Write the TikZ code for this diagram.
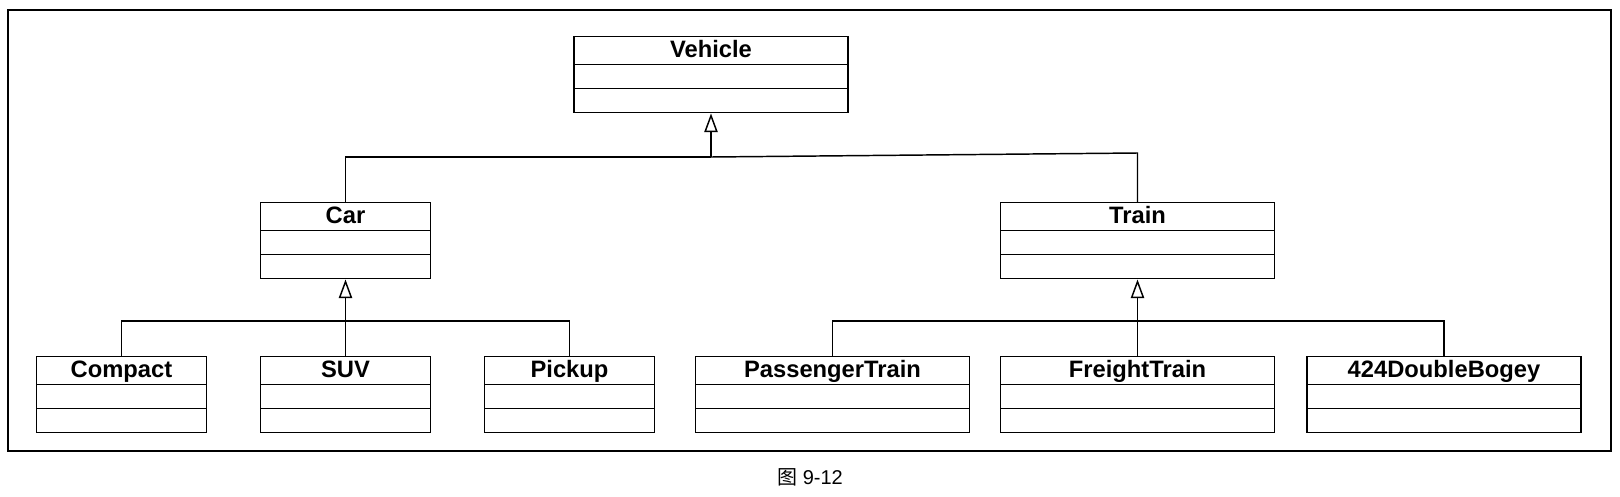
\documentclass[tikz,border=0pt]{standalone}
\usepackage{fontspec}
\setmainfont{Liberation Sans}
\newfontfamily\cjk{Noto Sans CJK SC}
\usetikzlibrary{shapes.multipart, arrows.meta}

% class box: name, attributes, operations
\newcommand{\umlbox}[1]{\rule[-4.6pt]{0pt}{19.9pt}#1\nodepart{two}\rule{0pt}{16.9pt}\nodepart{three}\rule{0pt}{16.9pt}}

\tikzset{
  umlclass/.style={rectangle split, rectangle split parts=3, draw, line width=1.1pt,
    inner sep=0pt, anchor=north, font=\fontsize{17.8}{20}\selectfont\bfseries},
  narrowclass/.style={umlclass, minimum width=127.5pt},
  wideclass/.style={umlclass, minimum width=205.5pt},
  isa/.style={-{Triangle[open, length=14pt, width=10pt]}, line width=1.1pt},
  link/.style={line width=1.1pt}
}

\begin{document}
\begin{tikzpicture}[x=0.75pt, y=-0.75pt]
\useasboundingbox (0,0) rectangle (1620,496);

%%%  nodes

% frame
\draw [line width=1.1pt] (8,10) rectangle (1611,451);

% top class
\node [wideclass] (vehicle) at (711,36) {\umlbox{Vehicle}};

% second level
\node [narrowclass] (car) at (345.5,202) {\umlbox{Car}};
\node [wideclass] (train) at (1137.5,202) {\umlbox{Train}};

% cars
\node [narrowclass] (compact) at (121.5,356) {\umlbox{Compact}};
\node [narrowclass] (suv) at (345.5,356) {\umlbox{SUV}};
\node [narrowclass] (pickup) at (569.5,356) {\umlbox{Pickup}};

% trains
\node [wideclass] (passenger) at (832.5,356) {\umlbox{PassengerTrain}};
\node [wideclass] (freight) at (1137.5,356) {\umlbox{FreightTrain}};
\node [wideclass] (bogey) at (1444,356) {\umlbox{424DoubleBogey}};

% bus points
\coordinate (vehiclebus) at (711,157);
\coordinate (trainbend) at (1137.5,153);
\coordinate (carbus) at (345.5,321);
\coordinate (trainbus) at (1137.5,321);

% caption
\node (caption) at (810,477) {\fontsize{15}{18}\selectfont{\cjk 图} 9-12};

%%% edges

% vehicle
\draw [isa] (vehiclebus) to (vehicle.south);
\draw [link] (car.north) |- (vehiclebus);
\draw [link] (train.north) -- (trainbend) -- (vehiclebus);

% car
\draw [isa] (carbus) to (car.south);
\draw [link] (compact.north) |- (carbus);
\draw [link] (suv.north) -- (carbus);
\draw [link] (pickup.north) |- (carbus);

% train
\draw [isa] (trainbus) to (train.south);
\draw [link] (passenger.north) |- (trainbus);
\draw [link] (freight.north) -- (trainbus);
\draw [link] (bogey.north) |- (trainbus);
\end{tikzpicture}
\end{document}
